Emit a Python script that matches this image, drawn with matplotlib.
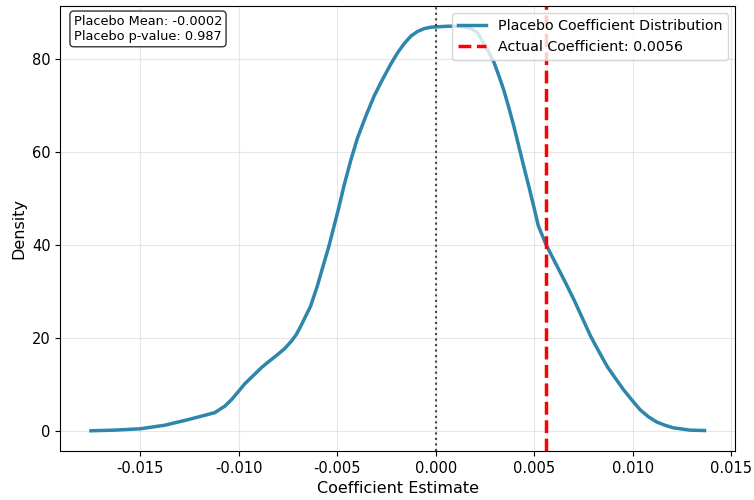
import numpy as np
import matplotlib.pyplot as plt

plt.rcParams['axes.unicode_minus'] = False

# placebo KDE curve
coef_x = [-0.0175, -0.0163, -0.0150, -0.01375, -0.01257, -0.01122, -0.01071,
          -0.01037, -0.01003, -0.0097, -0.00919, -0.00885, -0.00851, -0.00809,
          -0.00767, -0.00733, -0.0071, -0.00687, -0.00636, -0.00602, -0.00568,
          -0.00543, -0.00517, -0.00491, -0.00466, -0.00432, -0.00398, -0.00355,
          -0.00313, -0.0027, -0.00228, -0.00194, -0.0016, -0.00126, -0.00092,
          -0.00058, -0.00024, 0.00061, 0.00095, 0.0014, 0.00178, 0.00212,
          0.00245, 0.0027, 0.00295, 0.0032, 0.00345, 0.0037, 0.00395,
          0.0042, 0.00445, 0.0047, 0.00495, 0.0052, 0.0056, 0.00619,
          0.0066, 0.00702, 0.00744, 0.00786, 0.00828, 0.0087, 0.00911,
          0.00953, 0.00995, 0.01037, 0.01079, 0.0112, 0.01162, 0.01204,
          0.01288, 0.01363]
density = [0.0, 0.14, 0.43, 1.2, 2.4, 3.9, 5.3,
           6.7, 8.4, 10.1, 12.2, 13.6, 14.8, 16.2,
           17.7, 19.3, 20.6, 22.4, 26.8, 31.1, 36.1,
           39.7, 44.0, 48.3, 52.8, 58.2, 63.0, 67.8,
           72.1, 75.7, 79.0, 81.4, 83.4, 85.0, 86.0,
           86.6, 86.9, 87.1, 87.1, 87.0, 86.6, 85.7,
           83.2, 81.4, 79.3, 76.4, 73.3, 69.6, 65.7,
           61.4, 57.1, 52.9, 48.6, 44.1, 40.0, 35.1,
           31.7, 28.1, 24.2, 20.3, 17.0, 13.8, 11.3,
           8.8, 6.6, 4.5, 3.0, 1.9, 1.2, 0.65,
           0.14, 0.05]

actual_coef = 0.0056
placebo_mean = -0.0002
placebo_p = 0.987

fig, ax = plt.subplots(figsize=(7.54, 5.0), dpi=100)
fig.subplots_adjust(left=0.08, right=0.975, bottom=0.098, top=0.988)

ax.plot(coef_x, density, color='#2E86AB', linewidth=2.5,
        label='Placebo Coefficient Distribution')
ax.axvline(actual_coef, color='red', linestyle='--', linewidth=2.5,
           label=f'Actual Coefficient: {actual_coef:.4f}')
ax.axvline(0, color='black', linestyle=':', linewidth=1.5, alpha=0.7)

ax.set_xlabel('Coefficient Estimate', fontsize=11.5)
ax.set_ylabel('Density', fontsize=11.5)
ax.tick_params(labelsize=10.5)
ax.grid(True, alpha=0.3)
ax.legend(loc='upper right', fontsize=10.3)

ax.text(0.02, 0.98, f'Placebo Mean: {placebo_mean:.4f}\nPlacebo p-value: {placebo_p:.3f}',
        transform=ax.transAxes, fontsize=9.3, va='top',
        bbox=dict(boxstyle='round', facecolor='white', alpha=0.8))

fig.savefig('out.png', dpi=100)
